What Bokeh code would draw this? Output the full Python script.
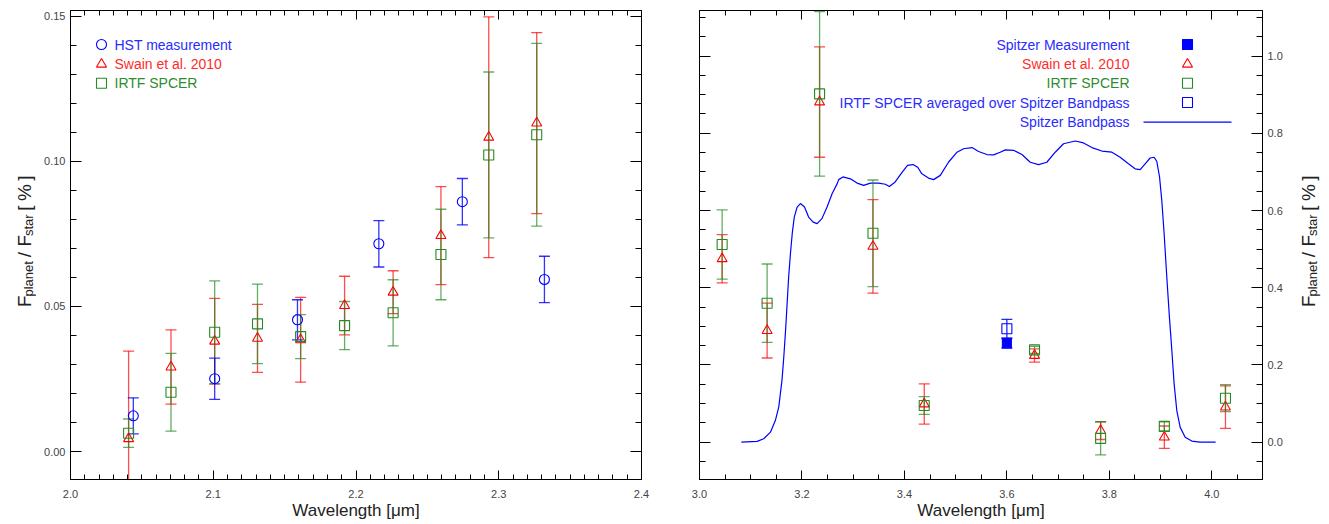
import math
from bokeh.plotting import figure
from bokeh.models import (FixedTicker, NumeralTickFormatter, LinearAxis, Label,
                          Range1d, CustomJSTickFormatter)
from bokeh.core.properties import value
from bokeh.layouts import row
from bokeh.embed import file_html
from bokeh.resources import INLINE

# ---------------- data: left panel (K band) ----------------
hst_wl = [2.044, 2.101, 2.159, 2.216, 2.2745, 2.332]
hst_val = [0.0123, 0.0251, 0.0454, 0.0716, 0.0861, 0.0593]
hst_err = [0.0062, 0.0071, 0.0069, 0.0080, 0.0080, 0.0080]

k_wl = [2.0407, 2.0704, 2.101, 2.131, 2.1612, 2.192, 2.226, 2.2595, 2.293, 2.3266]
swain_k_val = [0.0044, 0.0291, 0.0380, 0.0390, 0.0385, 0.0503, 0.0549, 0.0744, 0.1083, 0.1132]
swain_k_err = [0.0302, 0.0128, 0.0148, 0.0117, 0.0146, 0.0101, 0.0074, 0.0169, 0.0415, 0.0312]
irtf_k_val = [0.0063, 0.0204, 0.0411, 0.0440, 0.0396, 0.0434, 0.0478, 0.0679, 0.1022, 0.1092]
irtf_k_err = [0.0049, 0.0134, 0.0177, 0.0137, 0.0076, 0.0083, 0.0114, 0.0156, 0.0286, 0.0315]

# ---------------- data: right panel (L band) ----------------
l_wl = [3.0442, 3.132, 3.2344, 3.3386, 3.4387, 3.654, 3.783, 3.9074, 4.0267]
swain_l_val = [0.475, 0.289, 0.881, 0.507, 0.099, 0.2245, 0.030, 0.013, 0.091]
swain_l_err = [0.0625, 0.071, 0.143, 0.121, 0.052, 0.017, 0.023, 0.029, 0.055]
irtf_l_val = [0.512, 0.360, 0.902, 0.541, 0.095, 0.239, 0.010, 0.041, 0.114]
irtf_l_err = [0.0895, 0.1015, 0.213, 0.138, 0.023, 0.009, 0.043, 0.012, 0.035]

spitzer_wl = [3.6]
spitzer_val = [0.256]
spitzer_err = [0.012]
irtf_avg_val = [0.294]
irtf_avg_err = [0.024]

band_wl = [3.0817, 3.1125, 3.1254, 3.1385, 3.148, 3.1547, 3.161, 3.1645, 3.168, 3.171,
           3.174, 3.1775, 3.181, 3.185, 3.1906, 3.197, 3.205, 3.213, 3.2218, 3.2296,
           3.239, 3.249, 3.259, 3.2686, 3.2717, 3.280, 3.2945, 3.3076, 3.3205, 3.3335,
           3.3497, 3.3628, 3.3706, 3.382, 3.3954, 3.406, 3.4168, 3.426, 3.434, 3.447,
           3.457, 3.470, 3.486, 3.5026, 3.5155, 3.532, 3.5448, 3.561, 3.574, 3.587,
           3.597, 3.613, 3.6294, 3.6456, 3.6618, 3.678, 3.6944, 3.7106, 3.7334, 3.7496,
           3.766, 3.7855, 3.805, 3.8211, 3.8373, 3.8504, 3.8602, 3.8699, 3.8797, 3.8875,
           3.8927, 3.898, 3.9024, 3.907, 3.9122, 3.9173, 3.922, 3.9265, 3.9317, 3.9382,
           3.948, 3.961, 3.977, 4.0075]
band_val = [0.000, 0.002, 0.009, 0.026, 0.056, 0.091, 0.160, 0.220, 0.289, 0.358,
            0.427, 0.488, 0.540, 0.583, 0.609, 0.618, 0.609, 0.583, 0.570, 0.566,
            0.579, 0.609, 0.644, 0.669, 0.680, 0.687, 0.682, 0.671, 0.665, 0.671,
            0.671, 0.668, 0.662, 0.674, 0.699, 0.717, 0.719, 0.712, 0.695, 0.684,
            0.680, 0.691, 0.725, 0.751, 0.760, 0.763, 0.753, 0.745, 0.744, 0.751,
            0.757, 0.756, 0.745, 0.725, 0.719, 0.725, 0.751, 0.773, 0.780, 0.775,
            0.763, 0.754, 0.751, 0.738, 0.721, 0.708, 0.706, 0.721, 0.736, 0.738,
            0.727, 0.687, 0.626, 0.540, 0.427, 0.324, 0.238, 0.151, 0.082, 0.039,
            0.013, 0.003, 0.000, 0.000]

# ---------------- ticks ----------------
kx_major = [2.0, 2.1, 2.2, 2.3, 2.4]
kx_minor = [round(2.0 + 0.01 * i, 2) for i in range(41)]
ky_major = [0.0, 0.05, 0.10, 0.15]
ky_minor = [round(-0.01 + 0.01 * i, 2) for i in range(18)]
lx_major = [3.0, 3.2, 3.4, 3.6, 3.8, 4.0]
lx_minor = [round(3.0 + 0.05 * i, 2) for i in range(23)]
ly_major = [0.0, 0.2, 0.4, 0.6, 0.8, 1.0]
ly_minor = [round(-0.1 + 0.05 * i, 2) for i in range(25)]

left_legend = ["HST measurement", "Swain et al. 2010", "IRTF SPCER"]
right_legend = ["Spitzer Measurement", "Swain et al. 2010", "IRTF SPCER",
                "IRTF SPCER averaged over Spitzer Bandpass", "Spitzer Bandpass"]
x_title = "Wavelength [\u03bcm]"
# y title pieces: (text, is_subscript, em width, trailing gap in em of main font)
y_title_parts = [("F", False, 0.611, 0.0), ("planet", True, 2.724, 0.45),
                 ("/", False, 0.278, 0.35), ("F", False, 0.611, 0.0),
                 ("star", True, 1.667, 0.35), ("[", False, 0.278, 0.3),
                 ("%", False, 0.889, 0.3), ("]", False, 0.278, 0.0)]

# ---------------- style ----------------
FONT = "Liberation Sans"
BLUE, RED, GREEN = "#0000ff", "#ff0000", "#228b22"
TBLUE, TRED, TGREEN = "#2b2bff", "#ff2b2b", "#2e8b2e"
H = 524
B_TOP, B_BOT = 10, 45
W0 = 36
W1, W1_L, W1_R = 622, 34, 17
W2, W2_L, W2_R = 634, 41, 30
W3 = 37
FH = H - B_TOP - B_BOT
FW1 = W1 - W1_L - W1_R
FW2 = W2 - W2_L - W2_R
MAIN_FS, SUB_FS = 19, 13

KX = (2.0, 2.4)
KY = (-0.00965, 0.152)
LX = (3.0, 4.099)
LY = (-0.0966, 1.118)


def style_axis(ax, ticks, minor, fmt, tin, mtin, labels=True, standoff=6):
    ax.ticker = FixedTicker(ticks=ticks, minor_ticks=minor)
    ax.major_tick_in = tin
    ax.major_tick_out = 0
    ax.minor_tick_in = mtin
    ax.minor_tick_out = 0
    ax.axis_line_color = "black"
    ax.major_tick_line_color = "black"
    ax.minor_tick_line_color = "black"
    ax.major_label_text_font = FONT
    ax.major_label_text_color = "#444444"
    if labels:
        ax.formatter = NumeralTickFormatter(format=fmt)
        ax.major_label_text_font_size = "11px"
        ax.major_label_standoff = standoff
    else:
        ax.formatter = CustomJSTickFormatter(code="return ''")
        ax.major_label_text_font_size = "0px"
        ax.major_label_standoff = 0


def title_axis(ax):
    ax.axis_label = x_title
    ax.axis_label_text_font = FONT
    ax.axis_label_text_font_size = "17px"
    ax.axis_label_text_font_style = "normal"
    ax.axis_label_text_color = "#222222"
    ax.axis_label_standoff = 0


def make_fig(width, bl, br, xr, yr, yloc):
    p = figure(width=width, height=H, x_range=Range1d(*xr), y_range=Range1d(*yr),
               output_backend="svg", toolbar_location=None, y_axis_location=yloc,
               min_border_left=bl, min_border_right=br,
               min_border_top=B_TOP, min_border_bottom=B_BOT)
    p.grid.visible = False
    p.outline_line_color = "black"
    p.background_fill_color = "white"
    p.border_fill_color = "white"
    return p


def blank_axis(p, side, ticks, minor, tin, mtin):
    ax = LinearAxis()
    style_axis(ax, ticks, minor, None, tin, mtin, labels=False)
    p.add_layout(ax, side)


def errbars(p, xs, ys, es, color, alpha=0.7, cap=11):
    lo = [y - e for y, e in zip(ys, es)]
    hi = [y + e for y, e in zip(ys, es)]
    p.segment(x0=xs, y0=lo, x1=xs, y1=hi, line_color=color, line_alpha=alpha, line_width=1.3)
    p.scatter(x=list(xs) + list(xs), y=lo + hi, marker="dash", size=cap,
              line_color=color, line_alpha=alpha, line_width=1.3)


def px(r, f, v):
    return r[0] + v / f * (r[1] - r[0])


def title_fig(width, xbase):
    # narrow figure holding the rotated y title (pixel coordinates)
    p = figure(width=width, height=H, x_range=Range1d(0, width), y_range=Range1d(0, H),
               output_backend="svg", toolbar_location=None, x_axis_type=None, y_axis_type=None,
               min_border_left=0, min_border_right=0, min_border_top=0, min_border_bottom=0)
    p.grid.visible = False
    p.outline_line_color = None
    p.background_fill_color = "white"
    p.border_fill_color = "white"
    adv = []
    for t, sub, em, gap in y_title_parts:
        adv.append((SUB_FS if sub else MAIN_FS) * em + MAIN_FS * gap)
    total = sum(adv)
    y = (H - 258) - total / 2
    for (t, sub, em, gap), a in zip(y_title_parts, adv):
        fs = SUB_FS if sub else MAIN_FS
        p.text(x=[xbase + (4 if sub else 0)], y=[y], text=[t], angle=math.pi / 2,
               text_align="left", text_baseline="alphabetic", text_font=value(FONT),
               text_font_size=f"{fs}px", text_color="#222222")
        y += a
    return p


def legend_text(p, x, y, t, color, align):
    p.add_layout(Label(x=x, y=y, x_units="screen", y_units="screen", text=t,
                       text_align=align, text_baseline="middle", text_font=FONT,
                       text_font_size="14px", text_color=color))


# ================= left panel =================
p1 = make_fig(W1, W1_L, W1_R, KX, KY, "left")
xb1 = p1.xaxis[0]
yl1 = p1.yaxis[0]
style_axis(xb1, kx_major, kx_minor, "0.0", 9, 5, standoff=10)
style_axis(yl1, ky_major, ky_minor, "0.00", 11, 6, standoff=5)
title_axis(xb1)
blank_axis(p1, "above", kx_major, kx_minor, 9, 5)
blank_axis(p1, "right", ky_major, ky_minor, 11, 6)

errbars(p1, k_wl, swain_k_val, swain_k_err, RED)
errbars(p1, k_wl, irtf_k_val, irtf_k_err, GREEN)
errbars(p1, hst_wl, hst_val, hst_err, BLUE, alpha=0.8)
p1.scatter(k_wl, swain_k_val, marker="triangle", size=10, fill_color=None, line_color=RED, line_width=1.1)
p1.scatter(k_wl, irtf_k_val, marker="square", size=10, fill_color=None, line_color=GREEN, line_width=1.1)
p1.scatter(hst_wl, hst_val, marker="circle", size=10, fill_color=None, line_color=BLUE, line_width=1.1)

ly_rows = [435, 415.3, 396.3, 377, 357.3]
lmx = px(KX, FW1, 31)
for (mk, col, tcol), yy, t in zip([("circle", BLUE, TBLUE), ("triangle", RED, TRED), ("square", GREEN, TGREEN)],
                                  ly_rows, left_legend):
    p1.scatter([lmx], [px(KY, FH, yy)], marker=mk, size=10, fill_color=None, line_color=col, line_width=1.1)
    legend_text(p1, 44, yy, t, tcol, "left")

# ================= right panel =================
p2 = make_fig(W2, W2_L, W2_R, LX, LY, "right")
xb2 = p2.xaxis[0]
yr2 = p2.yaxis[0]
style_axis(xb2, lx_major, lx_minor, "0.0", 9, 5, standoff=10)
style_axis(yr2, ly_major, ly_minor, "0.0", 11, 6, standoff=5)
title_axis(xb2)
blank_axis(p2, "above", lx_major, lx_minor, 9, 5)
blank_axis(p2, "left", ly_major, ly_minor, 11, 6)

p2.line(band_wl, band_val, line_color=BLUE, line_width=1.2)
errbars(p2, l_wl, swain_l_val, swain_l_err, RED)
errbars(p2, l_wl, irtf_l_val, irtf_l_err, GREEN)
errbars(p2, spitzer_wl, irtf_avg_val, irtf_avg_err, BLUE, alpha=0.85)
errbars(p2, spitzer_wl, spitzer_val, spitzer_err, BLUE, alpha=0.85)
p2.scatter(l_wl, swain_l_val, marker="triangle", size=10, fill_color=None, line_color=RED, line_width=1.1)
p2.scatter(l_wl, irtf_l_val, marker="square", size=10, fill_color=None, line_color=GREEN, line_width=1.1)
p2.scatter(spitzer_wl, irtf_avg_val, marker="square", size=10, fill_color=None, line_color=BLUE, line_width=1.1)
p2.scatter(spitzer_wl, spitzer_val, marker="square", size=9, fill_color=BLUE, line_color=BLUE, line_width=1.1)

rmx = px(LX, FW2, 488)
specs = [("square", BLUE, BLUE, TBLUE), ("triangle", None, RED, TRED), ("square", None, GREEN, TGREEN),
         ("square", None, BLUE, TBLUE)]
for (mk, fc, lc, tc), yy, t in zip(specs, ly_rows[:4], right_legend[:4]):
    p2.scatter([rmx], [px(LY, FH, yy)], marker=mk, size=10, fill_color=fc, line_color=lc, line_width=1.1)
    legend_text(p2, 430, yy, t, tc, "right")
legend_text(p2, 430, ly_rows[4], right_legend[4], TBLUE, "right")
p2.line([px(LX, FW2, 444), px(LX, FW2, 532)], [px(LY, FH, ly_rows[4])] * 2, line_color=BLUE, line_width=1.2)

p0 = title_fig(W0, 24)
p3 = title_fig(W3, 16)

layout = row(p0, p1, p2, p3)
open("out.html", "w").write(file_html(layout, INLINE))
